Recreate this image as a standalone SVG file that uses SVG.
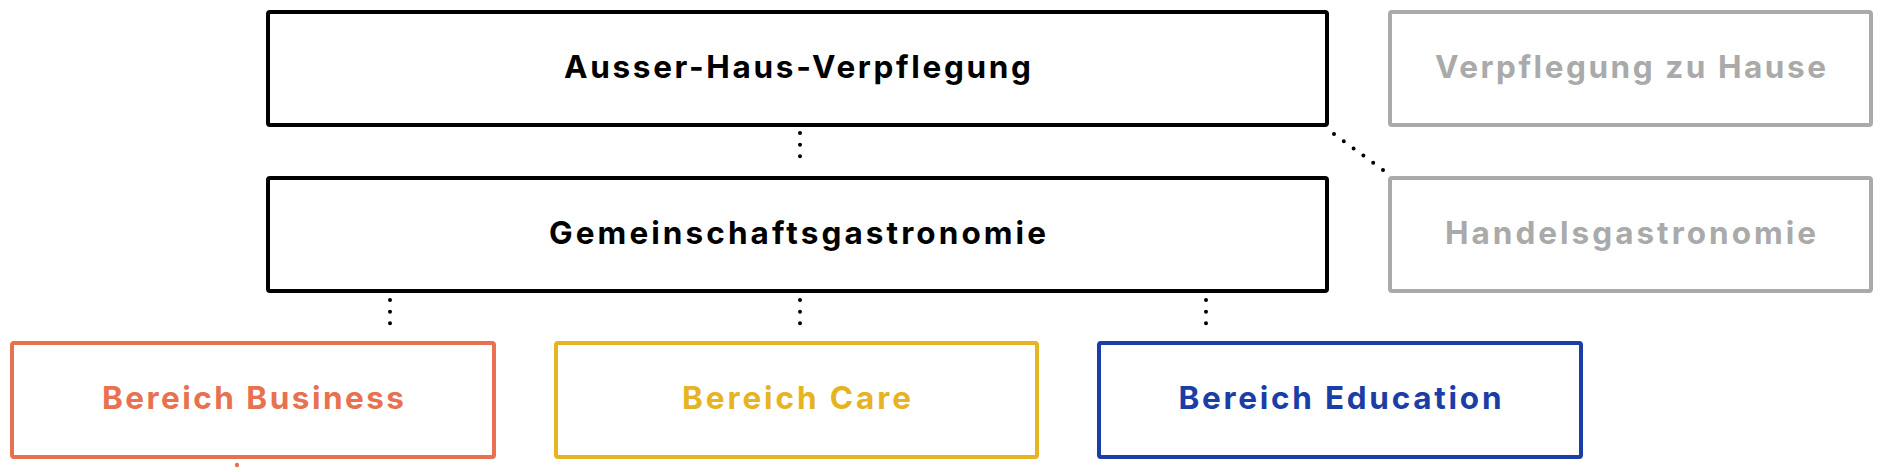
<svg xmlns="http://www.w3.org/2000/svg" width="1891" height="472" viewBox="0 0 1891 472">
<style>
.box{fill:#fff;stroke-width:4;}
.t{font-family:Inter,"Liberation Sans",Arial,sans-serif;font-weight:700;font-size:31.5px;text-anchor:middle;}
.k{stroke:#000;} .kt{fill:#000;}
.g{stroke:#aaaaaa;} .gt{fill:#aaaaaa;}
.o{stroke:#e8714f;} .ot{fill:#e8714f;}
.y{stroke:#e6b422;} .yt{fill:#e6b422;}
.b{stroke:#1a3ea6;} .bt{fill:#1a3ea6;}
.dot{fill:none;stroke:#000;stroke-width:4;stroke-linecap:round;}
</style>
<rect width="1891" height="472" fill="#fff"/>
<g id="connectors">
<line class="dot" x1="800" y1="133" x2="800" y2="168" stroke-dasharray="0 11.67"/>
<line class="dot" x1="390" y1="300" x2="390" y2="335" stroke-dasharray="0 11.67"/>
<line class="dot" x1="800" y1="300" x2="800" y2="335" stroke-dasharray="0 11.67"/>
<line class="dot" x1="1206" y1="300" x2="1206" y2="335" stroke-dasharray="0 11.67"/>
<line class="dot" x1="1334" y1="134" x2="1383" y2="170" stroke-dasharray="0 12.16"/>
<circle cx="237" cy="465" r="2.2" fill="#e8714f"/>
</g>
<g id="ausser-haus">
<rect class="box k" x="268" y="12" width="1059" height="113" rx="2"/>
<text class="t kt" x="797.5" y="78" textLength="467" lengthAdjust="spacing">Ausser-Haus-Verpflegung</text>
</g>
<g id="zu-hause">
<rect class="box g" x="1390" y="12" width="481" height="113" rx="2"/>
<text class="t gt" x="1630.5" y="78" textLength="391" lengthAdjust="spacing">Verpflegung zu Hause</text>
</g>
<g id="gemeinschaft">
<rect class="box k" x="268" y="178" width="1059" height="113" rx="2"/>
<text class="t kt" x="797.5" y="244" textLength="497" lengthAdjust="spacing">Gemeinschaftsgastronomie</text>
</g>
<g id="handels">
<rect class="box g" x="1390" y="178" width="481" height="113" rx="2"/>
<text class="t gt" x="1630.5" y="244" textLength="371" lengthAdjust="spacing">Handelsgastronomie</text>
</g>
<g id="business">
<rect class="box o" x="12" y="343" width="482" height="114" rx="2"/>
<text class="t ot" x="253" y="409" textLength="302" lengthAdjust="spacing">Bereich Business</text>
</g>
<g id="care">
<rect class="box y" x="556" y="343" width="481" height="114" rx="2"/>
<text class="t yt" x="796.5" y="409" textLength="229" lengthAdjust="spacing">Bereich Care</text>
</g>
<g id="education">
<rect class="box b" x="1099" y="343" width="482" height="114" rx="2"/>
<text class="t bt" x="1340" y="409" textLength="323" lengthAdjust="spacing">Bereich Education</text>
</g>
</svg>
